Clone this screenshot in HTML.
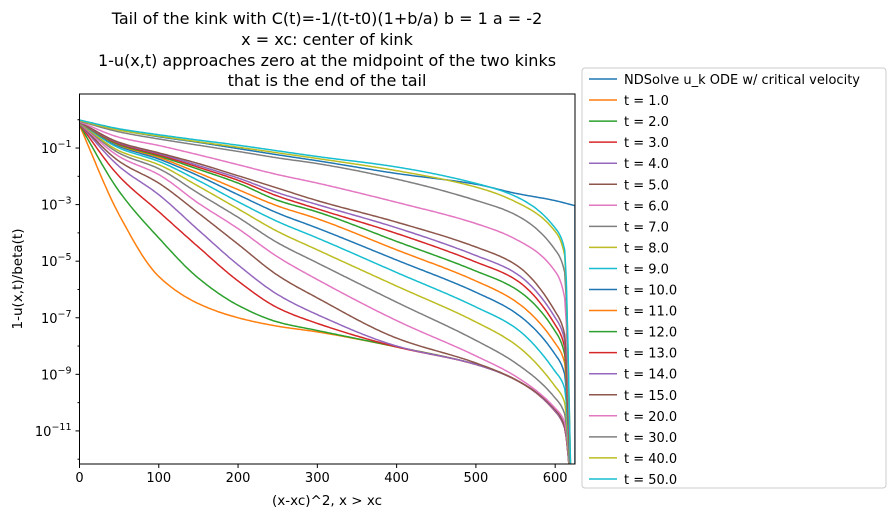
<!DOCTYPE html>
<html><head><meta charset="utf-8"><style>
body{margin:0;background:#fff;font-family:"Liberation Sans","DejaVu Sans",sans-serif;}
svg text{font-family:"DejaVu Sans","Liberation Sans",sans-serif;}
</style></head><body>
<svg id="chart" width="893" height="517" viewBox="0 0 893 517" xmlns="http://www.w3.org/2000/svg">
<g font-size="16" text-anchor="middle" fill="#000">
<text x="327" y="24">Tail of the kink with C(t)=-1/(t-t0)(1+b/a) b = 1 a = -2</text>
<text x="327" y="45">x = xc: center of kink</text>
<text x="327" y="66">1-u(x,t) approaches zero at the midpoint of the two kinks</text>
<text x="327" y="86">that is the end of the tail</text>
</g>
<defs><clipPath id="clip"><rect x="79.5" y="94" width="495.5" height="370"/></clipPath></defs>
<g id="series" clip-path="url(#clip)"></g>
<rect x="79.5" y="94" width="495.5" height="370" fill="none" stroke="#000" stroke-width="1"/>
<g id="axes"></g>
<text x="327" y="505" font-size="13.5" text-anchor="middle">(x-xc)^2, x &gt; xc</text>
<text x="0" y="0" font-size="13.5" text-anchor="middle" transform="translate(22,279) rotate(-90)">1-u(x,t)/beta(t)</text>
<g id="legend"></g>
</svg>
<script>
const xGrid = [0,50,100,150,200,250,300,400,500,550,600,612,620];
const ndX = [0,50,100,150,200,250,300,400,500,550,600,625,625];
const seriesLabels = ["NDSolve u_k ODE w/ critical velocity","t = 1.0","t = 2.0","t = 3.0","t = 4.0","t = 5.0","t = 6.0","t = 7.0","t = 8.0","t = 9.0","t = 10.0","t = 11.0","t = 12.0","t = 13.0","t = 14.0","t = 15.0","t = 20.0","t = 30.0","t = 40.0","t = 50.0"];
const ndLog = [-0.03,-0.36,-0.6,-0.8,-1.02,-1.24,-1.45,-1.9,-2.28,-2.6,-2.86,-3.04,-13];
const t1 = [-0.2,-3.36,-5.54,-6.5,-7.0,-7.3,-7.5,-8.03,-8.65,-9.19,-10.31,-10.9,-13];
const t2 = [-0.18,-2.53,-4.18,-5.6,-6.56,-7.15,-7.45,-8.03,-8.65,-9.19,-10.31,-10.9,-13];
const t3 = [-0.16,-2.0,-3.25,-4.5,-5.7,-6.65,-7.2,-8.03,-8.65,-9.19,-10.31,-10.9,-13];
const t4 = [-0.15,-1.65,-2.65,-3.9,-5.13,-6.18,-6.89,-8.0,-8.65,-9.19,-10.3,-10.9,-13];
const t5 = [-0.14,-1.47,-2.24,-3.3,-4.4,-5.5,-6.3,-7.72,-8.6,-9.19,-10.25,-10.85,-13];
const t6 = [-0.13,-1.3,-1.94,-2.95,-3.85,-4.85,-5.65,-7.1,-8.35,-9.07,-10.2,-10.7,-13];
const t7 = [-0.12,-1.18,-1.73,-2.6,-3.45,-4.35,-5.06,-6.45,-7.8,-8.6,-9.84,-10.4,-13];
const t8 = [-0.11,-1.1,-1.59,-2.35,-3.15,-3.95,-4.6,-5.88,-7.15,-7.95,-9.43,-10.0,-13];
const t9 = [-0.1,-1.0,-1.47,-2.15,-2.9,-3.6,-4.18,-5.4,-6.62,-7.36,-8.9,-9.5,-13];
const t10 = [-0.1,-0.94,-1.39,-1.98,-2.65,-3.3,-3.83,-4.96,-6.1,-6.83,-8.3,-9.0,-13];
const t11 = [-0.1,-0.9,-1.33,-1.88,-2.47,-3.05,-3.5,-4.6,-5.7,-6.42,-7.9,-8.6,-13];
const t12 = [-0.09,-0.88,-1.28,-1.75,-2.24,-2.85,-3.26,-4.3,-5.35,-5.98,-7.48,-8.3,-13];
const t13 = [-0.09,-0.85,-1.24,-1.68,-2.14,-2.7,-3.15,-4.02,-5.03,-5.65,-7.25,-8.05,-13];
const t14 = [-0.09,-0.82,-1.2,-1.62,-2.06,-2.58,-3.0,-3.82,-4.8,-5.42,-7.0,-7.8,-13];
const t15 = [-0.08,-0.8,-1.17,-1.55,-1.98,-2.42,-2.86,-3.62,-4.5,-5.12,-6.78,-7.6,-13];
const t20 = [-0.07,-0.62,-0.91,-1.24,-1.59,-1.94,-2.24,-2.92,-3.67,-4.22,-5.36,-6.3,-13];
const t30 = [-0.05,-0.43,-0.68,-0.9,-1.12,-1.35,-1.55,-2.1,-2.85,-3.36,-4.6,-5.4,-13];
const t40 = [-0.03,-0.37,-0.58,-0.78,-0.97,-1.17,-1.37,-1.8,-2.38,-2.9,-3.95,-4.8,-13];
const t50 = [-0.01,-0.32,-0.53,-0.72,-0.9,-1.1,-1.3,-1.67,-2.25,-2.71,-3.83,-4.6,-13];
const xTicks = [0,100,200,300,400,500,600];
const yTickExps = [-1,-3,-5,-7,-9,-11];
const yMinorExps = [0,-2,-4,-6,-8,-10,-12];

const allSeries = [ndLog,t1,t2,t3,t4,t5,t6,t7,t8,t9,t10,t11,t12,t13,t14,t15,t20,t30,t40,t50];
const colors = ["#1f77b4","#ff7f0e","#2ca02c","#d62728","#9467bd","#8c564b","#e377c2","#7f7f7f","#bcbd22","#17becf"];
const NS = "http://www.w3.org/2000/svg";
const L=79.5, R=575, T=94, B=464;
const xMin=0, xMax=625, yMax=0.91, yMin=-12.17;
function sx(v){return L+(v-xMin)/(xMax-xMin)*(R-L);}
function sy(e){return T+(yMax-e)/(yMax-yMin)*(B-T);}
function monotone(xs, ys){
  const n=xs.length, d=[], m=[];
  for(let i=0;i<n-1;i++) d.push((ys[i+1]-ys[i])/(xs[i+1]-xs[i]));
  m[0]=d[0]; m[n-1]=d[n-2];
  for(let i=1;i<n-1;i++){
    if(d[i-1]*d[i]<=0) m[i]=0;
    else { const h0=xs[i]-xs[i-1], h1=xs[i+1]-xs[i];
      m[i]=3*(h0+h1)/((2*h1+h0)/d[i-1]+(h1+2*h0)/d[i]); }
  }
  const pts=[];
  for(let i=0;i<n-1;i++){
    const h=xs[i+1]-xs[i];
    const steps=Math.max(2,Math.ceil(h/2));
    for(let k=0;k<steps;k++){
      const t=k/steps, t2=t*t, t3=t2*t;
      const y=(2*t3-3*t2+1)*ys[i]+(t3-2*t2+t)*h*m[i]+(-2*t3+3*t2)*ys[i+1]+(t3-t2)*h*m[i+1];
      pts.push([xs[i]+t*h,y]);
    }
  }
  pts.push([xs[n-1],ys[n-1]]);
  return pts;
}
const sg=document.getElementById('series');
allSeries.forEach((s,i)=>{
  let pts;
  if(i===0){
    pts=monotone(ndX.slice(0,-1), s.slice(0,-1));
    pts.push([ndX[ndX.length-1], s[s.length-1]]);
  } else pts=monotone(xGrid, s);
  const p=document.createElementNS(NS,'polyline');
  p.setAttribute('points', pts.map(q=>sx(q[0]).toFixed(1)+','+sy(q[1]).toFixed(1)).join(' '));
  p.setAttribute('fill','none');p.setAttribute('stroke',colors[i%10]);p.setAttribute('stroke-width','1.5');
  p.setAttribute('stroke-linejoin','round');
  
  
  sg.appendChild(p);
});
const ax=document.getElementById('axes');
xTicks.forEach(v=>{
  const l=document.createElementNS(NS,'line');
  l.setAttribute('x1',sx(v));l.setAttribute('x2',sx(v));l.setAttribute('y1',B);l.setAttribute('y2',B+4);l.setAttribute('stroke','#000');
  
  
  ax.appendChild(l);
  const t=document.createElementNS(NS,'text');
  t.setAttribute('x',sx(v));t.setAttribute('y',B+18);t.setAttribute('font-size','13');t.setAttribute('text-anchor','middle');
  t.textContent=v;
  
  
  ax.appendChild(t);
});
yMinorExps.forEach(e=>{
  if(sy(e)<T||sy(e)>B) return;
  const l=document.createElementNS(NS,'line');
  l.setAttribute('x1',L-2);l.setAttribute('x2',L);l.setAttribute('y1',sy(e));l.setAttribute('y2',sy(e));l.setAttribute('stroke','#000');
  
  
  ax.appendChild(l);
});
yTickExps.forEach(e=>{
  const l=document.createElementNS(NS,'line');
  l.setAttribute('x1',L-4);l.setAttribute('x2',L);l.setAttribute('y1',sy(e));l.setAttribute('y2',sy(e));l.setAttribute('stroke','#000');
  
  
  ax.appendChild(l);
  const t=document.createElementNS(NS,'text');
  t.setAttribute('x',L-8);t.setAttribute('y',sy(e)+5);t.setAttribute('font-size','13');t.setAttribute('text-anchor','end');
  t.innerHTML='10<tspan dy="-6" font-size="9.5">\u2212'+Math.abs(e)+'</tspan>';
  
  
  ax.appendChild(t);
});
const lg=document.getElementById('legend');
const box=document.createElementNS(NS,'rect');
box.setAttribute('x',582);box.setAttribute('y',68);box.setAttribute('width',304);box.setAttribute('height',420);box.setAttribute('rx',3);
box.setAttribute('fill','#fff');box.setAttribute('stroke','#ccc');


lg.appendChild(box);
seriesLabels.forEach((lab,i)=>{
  const y=79+i*21.05;
  const g=document.createElementNS(NS,'g');
  
  
  const l=document.createElementNS(NS,'line');
  l.setAttribute('x1',589);l.setAttribute('x2',617);l.setAttribute('y1',y);l.setAttribute('y2',y);
  l.setAttribute('stroke',colors[i%10]);l.setAttribute('stroke-width','1.5');
  g.appendChild(l);
  const t=document.createElementNS(NS,'text');
  t.setAttribute('x',624);t.setAttribute('y',y+5);t.setAttribute('font-size','13');
  t.textContent=lab;
  g.appendChild(t);
  lg.appendChild(g);
});
</script>
</body></html>
